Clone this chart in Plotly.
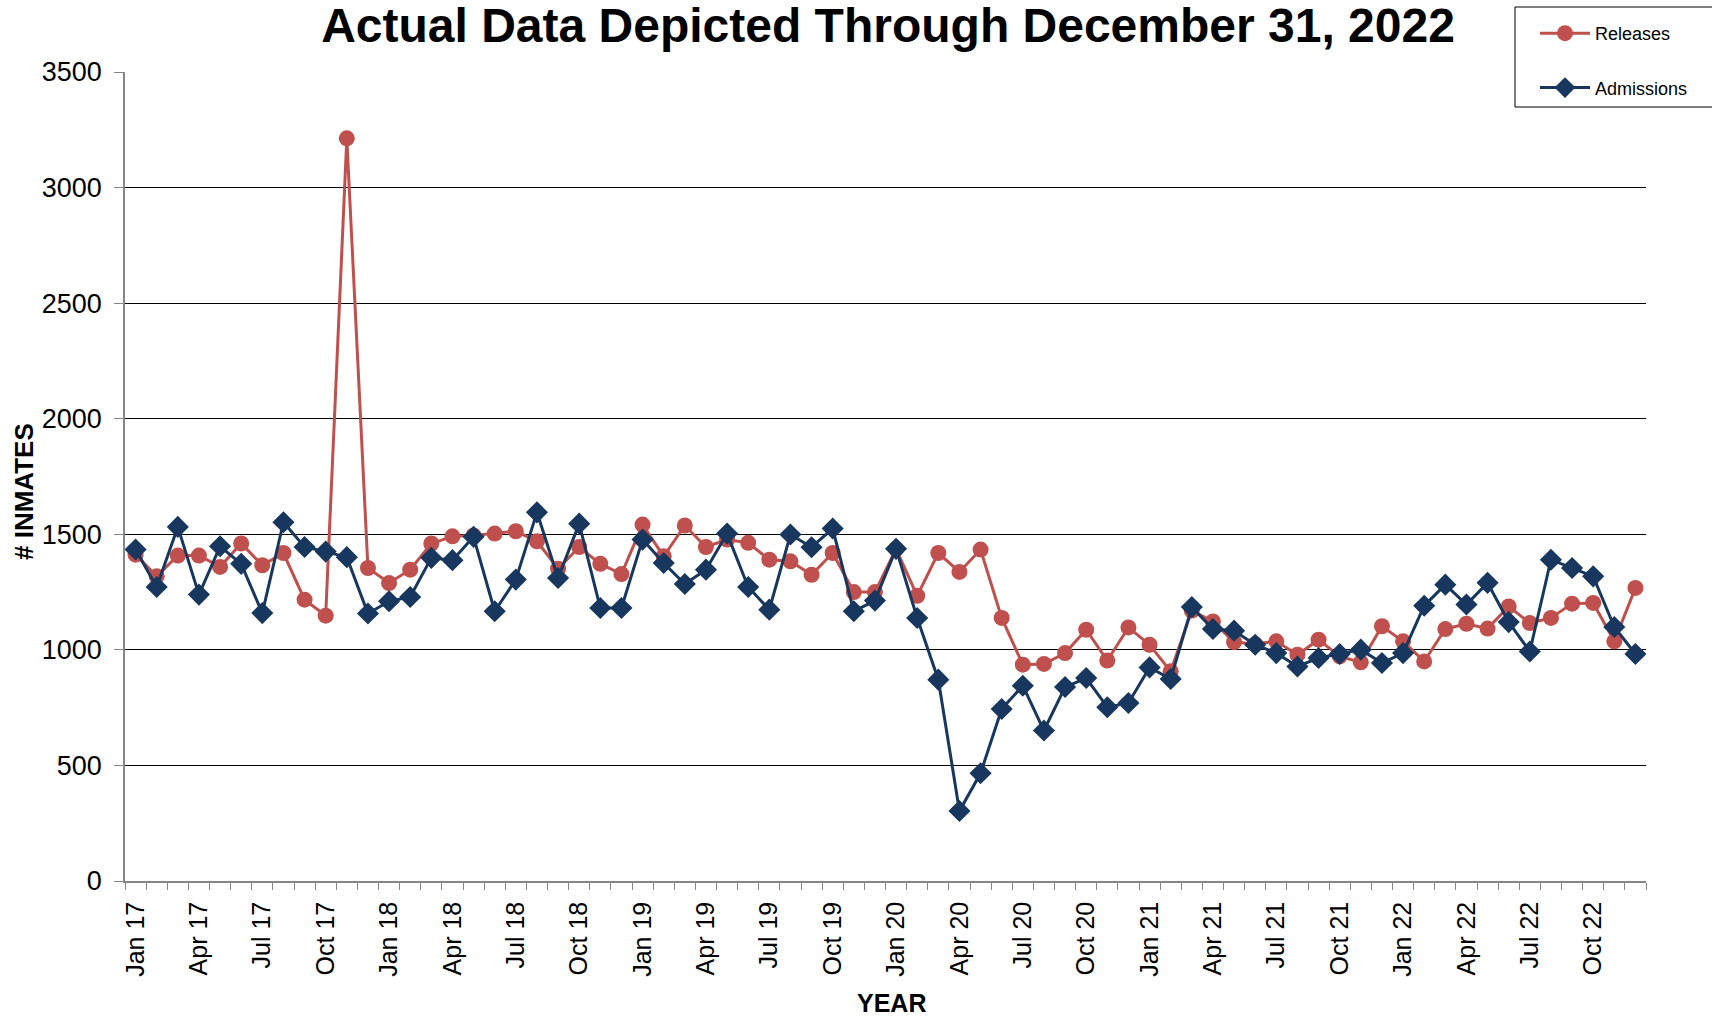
import plotly.graph_objects as go

months = ["Jan", "Feb", "Mar", "Apr", "May", "Jun", "Jul", "Aug", "Sep", "Oct", "Nov", "Dec"]
years = ["17", "18", "19", "20", "21", "22"]
categories = [f"{m} {y}" for y in years for m in months]

releases = [1412, 1318, 1408, 1408, 1359, 1460, 1366, 1419, 1217, 1148, 3213, 1354,
            1289, 1347, 1460, 1491, 1495, 1503, 1513, 1470, 1351, 1445, 1372, 1328,
            1542, 1405, 1538, 1445, 1477, 1463, 1390, 1383, 1325, 1419, 1250, 1250,
            1437, 1234, 1419, 1337, 1434, 1138, 936, 939, 986, 1087, 954, 1097,
            1022, 907, 1170, 1123, 1034, 1025, 1037, 979, 1044, 972, 946, 1102,
            1037, 950, 1090, 1113, 1092, 1188, 1116, 1138, 1200, 1203, 1037, 1268]

admissions = [1434, 1272, 1532, 1239, 1448, 1372, 1159, 1552, 1445, 1425, 1401, 1157,
              1210, 1229, 1398, 1388, 1489, 1167, 1304, 1595, 1311, 1546, 1181, 1181,
              1477, 1376, 1285, 1347, 1503, 1272, 1174, 1499, 1444, 1525, 1167, 1213,
              1437, 1138, 871, 303, 466, 744, 845, 651, 839, 878, 752, 770,
              924, 874, 1185, 1090, 1083, 1022, 986, 928, 965, 982, 1001, 943,
              986, 1191, 1282, 1196, 1290, 1120, 993, 1390, 1354, 1318, 1099, 982]

y_ticks = [0, 500, 1000, 1500, 2000, 2500, 3000, 3500]

RED = "#C0504D"
NAVY = "#17375E"
FONT = "Liberation Sans, Arial, sans-serif"

x_idx = list(range(len(categories)))
label_idx = x_idx[::3]
label_txt = categories[::3]

fig = go.Figure()
fig.add_trace(go.Scatter(
    x=x_idx, y=releases, name="Releases", mode="lines+markers",
    line=dict(color=RED, width=3), marker=dict(symbol="circle", size=16, color=RED),
    legendgroup="r"))
fig.add_trace(go.Scatter(
    x=x_idx, y=admissions, name="Admissions", mode="lines+markers",
    line=dict(color=NAVY, width=3), marker=dict(symbol="diamond", size=17, color=NAVY),
    legendgroup="a"))

W, H = 1712, 1017
L, R, T, B = 125, 66, 72, 136
pw, ph = W - L - R, H - T - B

def px_x(p):
    return (p - L) / pw

def px_y(p):
    return (H - B - p) / ph

fig.update_layout(
    width=W, height=H,
    margin=dict(l=L, r=R, t=T, b=B),
    paper_bgcolor="white", plot_bgcolor="white",
    font=dict(family=FONT, color="black"),
    title=dict(text="<b>Actual Data Depicted Through December 31, 2022</b>",
               font=dict(size=48, family=FONT, color="black"),
               x=px_x(888), xref="paper", xanchor="center",
               y=1 - 25 / H, yref="container", yanchor="middle"),
    showlegend=True,
    legend=dict(x=px_x(1535), y=px_y(15), xanchor="left", yanchor="top",
                font=dict(size=18, family=FONT), bgcolor="rgba(0,0,0,0)",
                borderwidth=0, tracegroupgap=28, itemwidth=50),
    xaxis=dict(range=[-0.5, len(categories) - 0.5], tickmode="array",
               tickvals=label_idx, ticktext=label_txt, tickangle=-90,
               ticks="", tickfont=dict(size=25, family=FONT),
               ticklabelstandoff=9,
               showline=True, linecolor="#868686", linewidth=1.5,
               showgrid=False, zeroline=False,
               minor=dict(tickmode="linear", tick0=-0.5, dtick=1, ticks="outside",
                          ticklen=7, tickcolor="#868686", tickwidth=1, showgrid=False)),
    yaxis=dict(range=[0, 3500], tickmode="array", tickvals=y_ticks,
               ticks="outside", ticklen=9, tickcolor="#868686", tickwidth=1,
               tickfont=dict(size=27, family=FONT), ticklabelstandoff=7,
               showline=True, linecolor="#868686", linewidth=1.5,
               showgrid=True, gridcolor="black", gridwidth=1, zeroline=False),
    shapes=[dict(type="rect", xref="paper", yref="paper",
                 x0=px_x(1515), x1=px_x(1716), y0=px_y(107), y1=px_y(7),
                 line=dict(color="black", width=1), fillcolor="rgba(0,0,0,0)")],
    annotations=[
        dict(text="<b># INMATES</b>", xref="paper", yref="paper",
             x=px_x(24), y=px_y(492), xanchor="center", yanchor="middle",
             textangle=-90, showarrow=False, font=dict(size=26, family=FONT)),
        dict(text="<b>YEAR</b>", xref="paper", yref="paper",
             x=px_x(891), y=px_y(1003), xanchor="center", yanchor="middle",
             showarrow=False, font=dict(size=25, family=FONT)),
    ],
)

fig.write_html("out.html",
               config={"displayModeBar": False},
               post_script="document.body.style.margin='0';document.body.style.overflow='hidden';")
